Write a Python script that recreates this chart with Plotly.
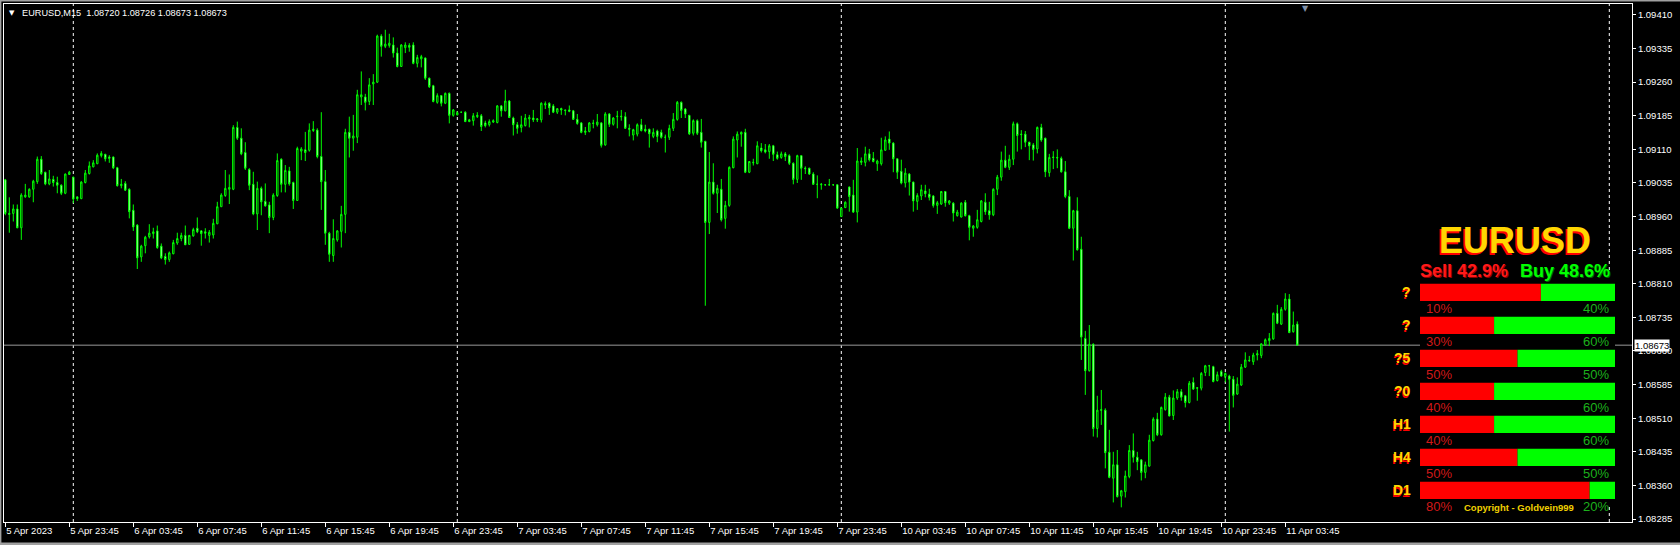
import plotly.graph_objects as go

# ---------------- data: EURUSD M15 candles, prices in points (1e-5) ----------------
open_pts = [
109042,108967,108967,108977,108935,109004,109004,109021,109038,109088,109059,109033,109043,109036,109030,109012,
109054,109048,109004,109000,109036,109056,109071,109078,109096,109099,109093,109093,109069,109029,109034,109021,
108974,108941,108870,108895,108915,108922,108928,108894,108871,108864,108877,108901,108911,108918,108898,108917,
108934,108928,108926,108918,108919,108944,108982,109007,109021,109021,109159,109135,109103,109065,109032,108966,
109023,108994,108986,108958,109007,109088,109032,109062,109036,108996,109106,109109,109108,109152,109153,109094,
109038,108923,108873,108908,108927,108965,109148,109135,109137,109227,109227,109217,109256,109260,109363,109340,
109342,109343,109325,109295,109337,109342,109343,109302,109312,109314,109269,109252,109215,109230,109213,109235,
109186,109187,109193,109193,109172,109174,109183,109185,109169,109165,109171,109170,109207,109196,109218,109180,
109165,109159,109163,109178,109180,109176,109176,109209,109213,109207,109193,109201,109198,109198,109196,109177,
109169,109148,109150,109169,109165,109169,109120,109189,109166,109183,109184,109183,109157,109142,109144,109165,
109155,109155,109139,109151,109148,109137,109137,109157,109177,109215,109200,109186,109146,109174,109148,109128,
108947,109037,109012,109021,108956,108985,109069,109131,109144,109148,109059,109080,109078,109113,109109,109105,
109118,109098,109092,109100,109096,109079,109043,109096,109068,109068,109055,109032,109031,109031,109031,109031,
109031,108960,108980,109026,109008,108970,109081,109081,109100,109090,109078,109078,109108,109133,109124,109089,
109061,109035,109055,109037,108994,109006,109017,109010,109006,108985,108988,109016,108990,108990,108962,108959,
108992,108962,108934,108936,108949,108992,108973,108964,109021,109048,109086,109070,109088,109167,109144,109144,
109126,109120,109111,109159,109135,109058,109093,109092,109090,109060,109005,108934,108973,108887,108688,108616,
108675,108487,108529,108528,108434,108376,108406,108336,108346,108380,108438,108423,108417,108389,108403,108460,
108508,108473,108529,108557,108516,108555,108569,108560,108545,108590,108578,108577,108612,108627,108625,108594,
108614,108603,108604,108597,108564,108584,108624,108638,108636,108651,108650,108674,108683,108687,108744,108720,
108753,108776,108703,108720]
high_pts = [
109044,109003,108987,108987,109012,109033,109023,109042,109094,109095,109060,109064,109051,109049,109032,109056,
109062,109049,109004,109039,109064,109083,109086,109101,109106,109100,109097,109094,109071,109044,109039,109023,
108987,108943,108897,108917,108943,108935,108940,108900,108878,108882,108908,108924,108924,108940,108919,108935,
108958,108930,108934,108930,108955,108993,109012,109064,109054,109164,109172,109157,109126,109068,109060,109038,
109027,109034,108993,109012,109101,109090,109075,109071,109038,109116,109115,109149,109168,109173,109157,109193,
109064,108926,108954,108930,108984,109156,109183,109187,109243,109284,109234,109269,109278,109366,109367,109377,
109368,109360,109337,109345,109349,109347,109349,109321,109321,109315,109270,109254,109235,109230,109237,109237,
109200,109195,109193,109195,109178,109191,109193,109189,109174,109177,109177,109209,109209,109243,109220,109183,
109171,109185,109189,109187,109198,109180,109215,109217,109215,109211,109202,109203,109198,109208,109198,109189,
109171,109160,109171,109176,109189,109171,109193,109191,109182,109196,109198,109193,109166,109156,109168,109178,
109165,109156,109157,109154,109154,109143,109165,109191,109218,109217,109202,109187,109177,109177,109178,109129,
109104,109079,109031,109044,108995,109072,109139,109150,109150,109156,109084,109089,109128,109124,109122,109122,
109120,109105,109105,109104,109099,109081,109098,109096,109072,109069,109059,109052,109035,109032,109044,109032,
109032,108980,108994,109027,109042,109113,109092,109116,109111,109104,109087,109136,109139,109150,109126,109089,
109087,109068,109057,109038,109012,109031,109031,109022,109008,108995,109017,109017,108997,108992,108975,108992,
108997,108964,108941,108975,108997,109012,108993,109023,109053,109105,109118,109098,109172,109170,109153,109151,
109127,109124,109161,109167,109136,109100,109106,109110,109094,109084,109019,108975,109003,108915,108705,108718,
108677,108560,108573,108532,108484,108435,108439,108350,108393,108450,108476,108435,108418,108413,108473,108512,
108522,108536,108566,108562,108572,108575,108575,108562,108593,108601,108579,108613,108629,108629,108627,108614,
108618,108612,108607,108604,108601,108631,108657,108649,108656,108662,108677,108688,108700,108746,108763,108758,
108789,108787,108748,108726]
low_pts = [
108963,108924,108949,108934,108908,109002,109002,108992,109033,109053,109030,109030,109027,109012,109008,109010,
109053,108990,108995,108999,109034,109054,109070,109077,109092,109083,109080,109066,109027,109023,109017,108956,
108928,108843,108859,108878,108911,108911,108888,108865,108853,108859,108876,108897,108905,108897,108897,108915,
108923,108895,108911,108902,108911,108943,108982,109004,108988,109019,109131,109097,109064,109019,108963,108930,
108963,108982,108923,108952,109004,109014,109014,109029,108977,108995,109086,109084,109105,109149,109090,108975,
108897,108859,108859,108904,108891,108923,109092,109107,109124,109209,109197,109209,109209,109258,109317,109336,
109337,109315,109293,109294,109325,109328,109300,109293,109293,109265,109247,109215,109212,109206,109211,109168,
109183,109186,109192,109171,109171,109163,109180,109151,109159,109161,109169,109168,109183,109195,109180,109141,
109145,109148,109161,109159,109171,109171,109170,109200,109187,109191,109189,109187,109186,109193,109176,109165,
109146,109142,109148,109157,109161,109114,109118,109160,109163,109157,109174,109156,109139,109130,109139,109150,
109148,109114,109135,109126,109134,109103,109131,109151,109174,109180,109180,109142,109141,109142,109114,108761,
108921,109009,108968,108949,108933,108982,109068,109092,109116,109057,109057,109074,109077,109103,109101,109089,
109084,109087,109089,109084,109075,109032,109035,109042,109055,109053,109031,109001,109020,109029,109029,109029,
108977,108959,108979,108971,108968,108947,109075,109072,109083,109081,109062,109074,109107,109109,109059,109044,
109032,109025,109007,108971,108975,108997,109003,108996,108980,108966,108986,108982,108986,108949,108960,108958,
108960,108907,108915,108933,108947,108964,108953,108961,109008,109040,109068,109064,109075,109105,109110,109115,
109086,109085,109101,109127,109048,109049,109066,109068,109058,109001,108932,108862,108884,108640,108562,108614,
108469,108467,108495,108398,108376,108322,108333,108311,108333,108376,108411,108394,108371,108376,108402,108458,
108470,108471,108527,108514,108506,108551,108549,108534,108543,108573,108549,108572,108604,108604,108590,108592,
108603,108590,108480,108534,108562,108582,108622,108636,108629,108639,108644,108671,108671,108685,108720,108718,
108750,108700,108701,108673]
close_pts = [
108967,108965,108977,108935,109008,109008,109021,109039,109088,109056,109033,109044,109036,109030,109012,109055,
109059,108999,109000,109037,109057,109073,109080,109097,109101,109089,109090,109069,109029,109032,109019,108971,
108937,108868,108894,108914,108923,108926,108891,108868,108864,108879,108902,108911,108918,108897,108918,108931,
108926,108922,108923,108925,108945,108982,109008,109023,109025,109159,109135,109100,109068,109030,108966,109023,
108993,108984,108958,109008,109085,109032,109063,109033,108996,109112,109111,109103,109153,109155,109094,109038,
108923,108876,108911,108928,108965,109148,109135,109140,109232,109232,109215,109254,109260,109363,109340,109345,
109347,109325,109295,109343,109343,109338,109302,109315,109317,109269,109250,109217,109230,109213,109235,109186,
109198,109192,109193,109172,109176,109185,109186,109161,109163,109172,109174,109207,109196,109218,109181,109165,
109157,109165,109180,109181,109176,109178,109213,109212,109203,109193,109201,109198,109197,109195,109177,109168,
109148,109151,109169,109168,109171,109119,109189,109166,109180,109184,109183,109157,109155,109154,109165,109152,
109151,109145,109148,109139,109137,109137,109157,109177,109215,109197,109189,109145,109174,109146,109126,108947,
109037,109012,109023,108953,108985,109070,109133,109144,109148,109059,109083,109081,109118,109107,109104,109118,
109099,109090,109100,109094,109079,109043,109096,109068,109067,109055,109032,109032,109032,109031,109031,109031,
108979,108979,108992,109005,108970,109084,109084,109100,109087,109083,109084,109109,109131,109124,109089,109059,
109035,109057,109037,108995,109007,109020,109011,109003,108985,108991,109016,108991,108995,108968,108970,108990,
108962,108936,108939,108953,108995,108971,108964,109021,109048,109086,109070,109088,109167,109141,109143,109126,
109118,109110,109159,109131,109060,109092,109092,109091,109060,109005,108934,108973,108886,108691,108616,108675,
108487,108528,108528,108433,108378,108406,108335,108348,108381,108438,108423,108413,108389,108406,108461,108508,
108473,108534,108557,108515,108555,108569,108557,108545,108588,108575,108577,108610,108627,108627,108592,108607,
108604,108610,108597,108561,108586,108624,108640,108639,108651,108654,108676,108685,108688,108744,108722,108753,
108776,108701,108718,108673]

# time axis labels (bar index of first bar at each label)
label_bars = [0, 17, 33, 49, 65, 81, 97, 113, 129, 145, 161, 177, 193, 209, 225, 241, 257, 273, 289, 305, 321]
label_text = ["5 Apr 2023", "5 Apr 23:45", "6 Apr 03:45", "6 Apr 07:45", "6 Apr 11:45", "6 Apr 15:45",
              "6 Apr 19:45", "6 Apr 23:45", "7 Apr 03:45", "7 Apr 07:45", "7 Apr 11:45", "7 Apr 15:45",
              "7 Apr 19:45", "7 Apr 23:45", "10 Apr 03:45", "10 Apr 07:45", "10 Apr 11:45", "10 Apr 15:45",
              "10 Apr 19:45", "10 Apr 23:45", "11 Apr 03:45"]
day_sep_bars = [17, 113, 209, 305, 401]

price_ticks = [1.09410, 1.09335, 1.09260, 1.09185, 1.09110, 1.09035, 1.08960, 1.08885,
               1.08810, 1.08735, 1.08660, 1.08585, 1.08510, 1.08435, 1.08360, 1.08285]

# indicator panel
tf_labels = ["?", "?", "?5", "?0", "H1", "H4", "D1"]
sell_pct = [10, 30, 50, 40, 40, 50, 80]
buy_pct = [40, 60, 50, 60, 60, 50, 20]
sell_bar = [62, 38, 50, 38, 38, 50, 87]
sell_total = 42.9
buy_total = 48.6

# ---------------- figure ----------------
o = [v / 1e5 for v in open_pts]
h = [v / 1e5 for v in high_pts]
l = [v / 1e5 for v in low_pts]
c = [v / 1e5 for v in close_pts]
idx = list(range(len(c)))

W, H = 1680, 545
L0, R0, T0, B0 = 4, 1632, 4, 522


def px(x):
    return (x - L0) / (R0 - L0)


def py(y):
    return (B0 - y) / (B0 - T0)


FONT = "Liberation Sans, Arial, sans-serif"
LIME = "#00FF00"

fig = go.Figure()
fig.add_trace(go.Candlestick(
    x=idx, open=o, high=h, low=l, close=c,
    increasing=dict(line=dict(color=LIME, width=1), fillcolor="#000000"),
    decreasing=dict(line=dict(color=LIME, width=1), fillcolor="#FFFFFF"),
    whiskerwidth=0, hoverinfo="skip", showlegend=False,
))

rows = list(range(len(tf_labels)))
fig.add_trace(go.Bar(
    y=rows, x=sell_bar, orientation="h", marker=dict(color="#FF0000", line=dict(width=0)),
    width=0.52, xaxis="x2", yaxis="y2", hoverinfo="skip", showlegend=False,
))
fig.add_trace(go.Bar(
    y=rows, x=[100 - s for s in sell_bar], base=sell_bar, orientation="h",
    marker=dict(color=LIME, line=dict(width=0)),
    width=0.52, xaxis="x2", yaxis="y2", hoverinfo="skip", showlegend=False,
))

n_vis = (R0 - L0) / 4.0
x0 = (L0 - 5.3) / 4.0
fig.update_layout(
    width=W, height=H,
    margin=dict(l=L0, r=W - R0, t=T0, b=H - B0),
    paper_bgcolor="#000000", plot_bgcolor="#000000",
    font=dict(family=FONT, color="#FFFFFF", size=9.5),
    boxgap=0.5, barmode="overlay",
    xaxis=dict(
        range=[x0, x0 + n_vis], showgrid=False, zeroline=False,
        rangeslider=dict(visible=False),
        showline=True, mirror=True, linecolor="#FFFFFF", linewidth=1,
        ticks="outside", ticklen=4, tickcolor="#FFFFFF", tickwidth=1,
        tickmode="array", tickvals=[max(b - 1, 0) for b in label_bars], ticktext=label_text,
        ticklabelposition="outside right",
        tickfont=dict(family=FONT, size=9.5, color="#FFFFFF"),
        fixedrange=True,
    ),
    yaxis=dict(
        side="right", range=[1.08285 - 3 * 0.00002232, 1.08285 + 515 * 0.00002232],
        showgrid=False, zeroline=False,
        showline=True, mirror=True, linecolor="#FFFFFF", linewidth=1,
        ticks="outside", ticklen=3, tickcolor="#FFFFFF",
        tickmode="array", tickvals=price_ticks, ticktext=["%.5f" % v for v in price_ticks],
        tickfont=dict(family=FONT, size=9.5, color="#FFFFFF"),
        fixedrange=True,
    ),
    xaxis2=dict(domain=[px(1420), px(1615)], range=[0, 100], visible=False, anchor="y2", fixedrange=True),
    yaxis2=dict(domain=[py(506.8), py(275.8)], range=[6.5, -0.5], visible=False, anchor="x2", fixedrange=True),
)

shapes = []
for b in day_sep_bars:
    shapes.append(dict(type="line", xref="x", yref="paper", x0=b, x1=b, y0=0, y1=1,
                       line=dict(color="#FFFFFF", width=1, dash="3px,3px"), layer="below"))
shapes.append(dict(type="line", xref="paper", yref="y", x0=0, x1=1, y0=c[-1], y1=c[-1],
                   line=dict(color="#9A9A9A", width=1), layer="below"))
# window frame
shapes.append(dict(type="rect", xref="paper", yref="paper", x0=px(0), x1=px(W), y0=py(0), y1=py(1.6),
                   line=dict(width=0), fillcolor="#A0A0A0"))
shapes.append(dict(type="rect", xref="paper", yref="paper", x0=px(0), x1=px(1.4), y0=py(H), y1=py(0),
                   line=dict(width=0), fillcolor="#A0A0A0"))
shapes.append(dict(type="rect", xref="paper", yref="paper", x0=px(0), x1=px(W), y0=py(H), y1=py(H - 2.5),
                   line=dict(width=0), fillcolor="#A0A0A0"))
fig.update_layout(shapes=shapes)

ann = []
# header
ann.append(dict(xref="paper", yref="paper", x=px(12.2), y=py(12.5), text="▼", showarrow=False,
                font=dict(family="DejaVu Sans", size=7, color="#FFFFFF"), xanchor="center", yanchor="middle"))
hdr = "EURUSD,M15  %.5f %.5f %.5f %.5f" % (o[-1], h[-1], l[-1], c[-1])
ann.append(dict(xref="paper", yref="paper", x=px(20), y=py(12.5), text=hdr.replace("  ", "&nbsp; "),
                showarrow=False, font=dict(family=FONT, size=9.2, color="#FFFFFF"),
                xanchor="left", yanchor="middle"))
# chart shift marker
ann.append(dict(xref="paper", yref="paper", x=px(1305), y=py(4), text="▼", showarrow=False,
                font=dict(family="DejaVu Sans", size=8, color="#8090A8"), xanchor="center", yanchor="top",
                yshift=2))
# current price label
ann.append(dict(xref="paper", yref="y", x=px(1634), y=c[-1], text="%.5f" % c[-1], showarrow=False,
                font=dict(family=FONT, size=9.5, color="#000000"), bgcolor="#FFFFFF",
                xanchor="left", yanchor="middle", borderpad=0))

# panel title
for col, dx, dy in [("#FF0000", -2, -2), ("#FFD700", 0, 0)]:
    ann.append(dict(xref="paper", yref="paper", x=px(1515), y=py(240), text="<b>EURUSD</b>",
                    showarrow=False, font=dict(family=FONT, size=36, color=col),
                    xanchor="center", yanchor="middle", xshift=dx, yshift=dy))
for col, dx, dy in [("#8B0000", 1, -1), ("#FF1A1A", 0, 0)]:
    ann.append(dict(xref="paper", yref="paper", x=px(1418), y=py(271), text="<b>Sell %.1f%%</b>" % sell_total,
                    showarrow=False, font=dict(family=FONT, size=18, color=col),
                    xanchor="left", yanchor="middle", xshift=dx, yshift=dy))
for col, dx, dy in [("#006400", 1, -1), ("#00FF00", 0, 0)]:
    ann.append(dict(xref="paper", yref="paper", x=px(1612), y=py(271), text="<b>Buy %.1f%%</b>" % buy_total,
                    showarrow=False, font=dict(family=FONT, size=18, color=col),
                    xanchor="right", yanchor="middle", xshift=dx, yshift=dy))

ROW0, ROW_STEP = 292.3, 33.0
for r, lab in enumerate(tf_labels):
    for col, dx, dy in [("#FF0000", -1.5, -1.5), ("#FFD700", 0, 0)]:
        ann.append(dict(xref="paper", yref="paper", x=px(1413), y=py(ROW0 + ROW_STEP * r),
                        text="<b>%s</b>" % lab, showarrow=False,
                        font=dict(family=FONT, size=14, color=col), xanchor="right", yanchor="middle",
                        xshift=dx, yshift=dy))
    ann.append(dict(xref="x2", yref="y2", x=2, y=r + 0.485, text="%d%%" % sell_pct[r], showarrow=False,
                    font=dict(family=FONT, size=13, color="#D01818"), xanchor="left", yanchor="middle"))
    ann.append(dict(xref="x2", yref="y2", x=98, y=r + 0.485, text="%d%%" % buy_pct[r], showarrow=False,
                    font=dict(family=FONT, size=13, color="#1CB01C"), xanchor="right", yanchor="middle"))

ann.append(dict(xref="paper", yref="paper", x=px(1519), y=py(507), text="<b>Copyright - Goldvein999</b>",
                showarrow=False, font=dict(family=FONT, size=9.5, color="#F0D000"),
                xanchor="center", yanchor="middle"))
fig.update_layout(annotations=ann)

fig.write_html("out.html", include_plotlyjs=True, full_html=True,
               config={"displayModeBar": False, "staticPlot": True},
               post_script="document.body.style.margin='0';document.body.style.background='#000';")
